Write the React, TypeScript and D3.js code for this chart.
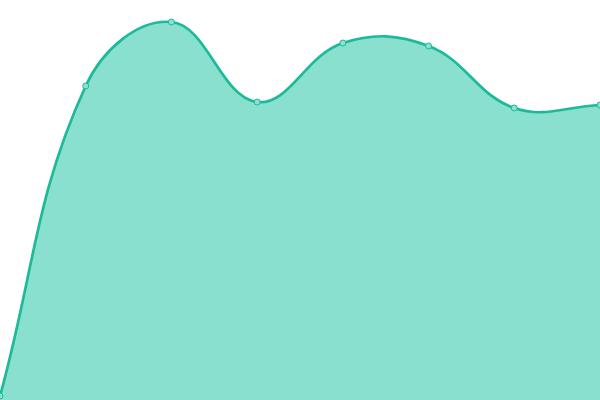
import * as d3 from "d3";

const categories = ["A", "B", "C", "D", "E", "F", "G", "H"];
const values = [1, 78.5, 94.5, 74.5, 89.25, 88.5, 73, 73.75];

const width = 600;
const height = 400;

// spline with distance-weighted control points (tension 0.4)
class SplineCurve {
  _context: any;
  _t: number;
  _line = NaN;
  _xs: number[] = [];
  _ys: number[] = [];
  constructor(context: any, t: number) {
    this._context = context;
    this._t = t;
  }
  areaStart() {
    this._line = 0;
  }
  areaEnd() {
    this._line = NaN;
  }
  lineStart() {
    this._xs = [];
    this._ys = [];
  }
  point(x: number, y: number) {
    this._xs.push(+x);
    this._ys.push(+y);
  }
  lineEnd() {
    const ctx = this._context;
    const xs = this._xs;
    const ys = this._ys;
    const n = xs.length;
    const t = this._t;
    const prevCp: [number, number][] = [];
    const nextCp: [number, number][] = [];
    for (let i = 0; i < n; i++) {
      const px = xs[Math.max(i - 1, 0)], py = ys[Math.max(i - 1, 0)];
      const cx = xs[i], cy = ys[i];
      const nx = xs[Math.min(i + 1, n - 1)], ny = ys[Math.min(i + 1, n - 1)];
      const d01 = Math.hypot(cx - px, cy - py);
      const d12 = Math.hypot(nx - cx, ny - cy);
      let s01 = d01 / (d01 + d12);
      let s12 = d12 / (d01 + d12);
      s01 = isNaN(s01) ? 0 : s01;
      s12 = isNaN(s12) ? 0 : s12;
      const fa = t * s01;
      const fb = t * s12;
      const clampX = (v: number) => Math.max(0, Math.min(width, v));
      const clampY = (v: number) => Math.max(0, Math.min(height, v));
      prevCp.push([clampX(cx - fa * (nx - px)), clampY(cy - fa * (ny - py))]);
      nextCp.push([clampX(cx + fb * (nx - px)), clampY(cy + fb * (ny - py))]);
    }
    for (let i = 0; i < n; i++) {
      if (i === 0) {
        this._line ? ctx.lineTo(xs[0], ys[0]) : ctx.moveTo(xs[0], ys[0]);
      } else {
        ctx.bezierCurveTo(
          nextCp[i - 1][0],
          nextCp[i - 1][1],
          prevCp[i][0],
          prevCp[i][1],
          xs[i],
          ys[i]
        );
      }
    }
    if (this._line || (this._line !== 0 && n === 1)) ctx.closePath();
    this._line = 1 - this._line;
  }
}

const splineCurve = (t: number) => (context: any) =>
  new SplineCurve(context, t) as any;

export default function App() {
  const x = d3
    .scalePoint<string>()
    .domain(categories)
    .range([0, width]);

  const y = d3.scaleLinear().domain([0, 100]).range([height, 0]);

  const curve = splineCurve(0.4);

  const area = d3
    .area<number>()
    .x((_, i) => x(categories[i])!)
    .y0(height)
    .y1((d) => y(d))
    .curve(curve);

  const line = d3
    .line<number>()
    .x((_, i) => x(categories[i])!)
    .y((d) => y(d))
    .curve(curve);

  return (
    <svg
      width={width}
      height={height}
      style={{ position: "fixed", left: 0, top: 0, background: "#fff" }}
    >
      <path d={area(values)!} fill="#89e0cf" />
      <path d={line(values)!} fill="none" stroke="#1cba99" strokeWidth={2.7} />
      {values.map((v, i) => (
        <circle
          key={i}
          cx={x(categories[i])}
          cy={y(v)}
          r={3}
          fill="#8ee1d1"
          stroke="#1cba99"
          strokeWidth={1}
        />
      ))}
    </svg>
  );
}
